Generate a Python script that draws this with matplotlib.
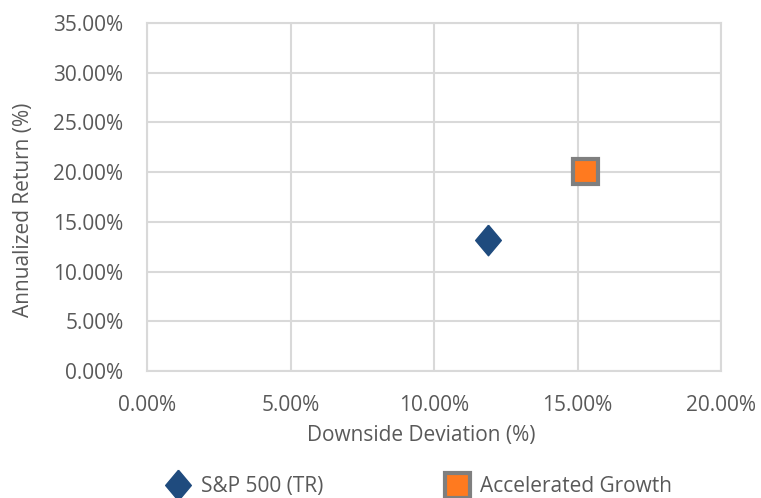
import matplotlib.pyplot as plt
from matplotlib.ticker import PercentFormatter

plt.rcParams["font.family"] = ["Open Sans", "DejaVu Sans"]

series = ["S&P 500 (TR)", "Accelerated Growth"]
downside_dev = [11.88, 15.27]
ann_return = [13.2, 20.1]

x_ticks = [0, 5, 10, 15, 20]
y_ticks = [0, 5, 10, 15, 20, 25, 30, 35]

grid_col = "#D9D9D9"
text_col = "#595959"

fig = plt.figure(figsize=(7.61, 4.98), dpi=100)
ax = fig.add_axes([147 / 761, 1 - 371 / 498, (721 - 147) / 761, (371 - 23) / 498])

diamond = [(0, 1), (0.84, 0), (0, -1), (-0.84, 0), (0, 1)]
ax.plot(downside_dev[0], ann_return[0], linestyle="none", marker=diamond,
        markersize=22, color="#1F4B7E", label=series[0], zorder=3)
ax.plot(downside_dev[1], ann_return[1], linestyle="none", marker="s",
        markersize=18, markerfacecolor="#FF7A1F", markeredgecolor="#7F7F7F",
        markeredgewidth=3, label=series[1], zorder=3)

ax.set_xlim(0, 20)
ax.set_ylim(0, 35)
ax.set_xticks(x_ticks)
ax.set_yticks(y_ticks)
ax.xaxis.set_major_formatter(PercentFormatter(decimals=2))
ax.yaxis.set_major_formatter(PercentFormatter(decimals=2))
ax.grid(True, color=grid_col, linewidth=1.5)
ax.set_axisbelow(True)
for s in ax.spines.values():
    s.set_color(grid_col)
    s.set_linewidth(1.5)
ax.tick_params(length=0, labelsize=15, colors=text_col)
ax.tick_params(axis="y", pad=17)
ax.tick_params(axis="x", pad=17)

ax.set_xlabel("Downside Deviation (%)", fontsize=15, color=text_col)
ax.set_ylabel("Annualized Return (%)", fontsize=15, color=text_col)
ax.xaxis.set_label_coords(0.478, -0.155)
ax.yaxis.set_label_coords(-0.197, 0.463)

leg = fig.legend(loc="lower center", bbox_to_anchor=(0.55, -0.036), ncol=2,
                 frameon=False, fontsize=15, columnspacing=5.8, handletextpad=0.5,
                 handlelength=1.2, markerscale=1.0)
for t in leg.get_texts():
    t.set_color(text_col)

fig.savefig("out.png", dpi=100)
